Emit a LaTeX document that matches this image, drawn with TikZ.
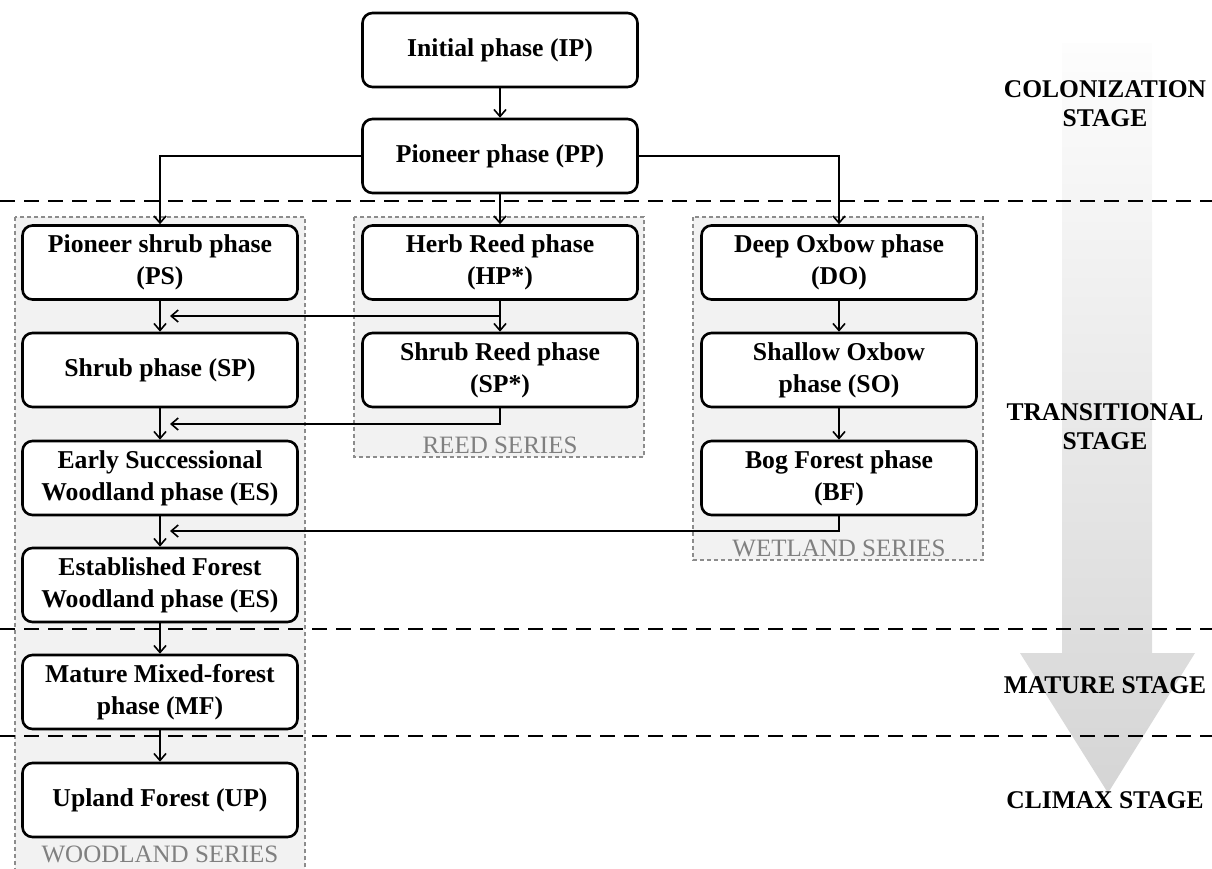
\documentclass[tikz,border=0pt]{standalone}
\usepackage{fontspec}
\setmainfont{Liberation Serif}
\usetikzlibrary{arrows.meta}
\definecolor{grpfill}{HTML}{F2F2F2}
\definecolor{grpline}{HTML}{8C8C8C}
\definecolor{grptext}{HTML}{808080}
\definecolor{shtop}{HTML}{FDFDFD}
\definecolor{shbot}{HTML}{D5D5D5}
\begin{document}
\begin{tikzpicture}[x=1pt,y=-1pt,
  phase/.style={draw, line width=2.6pt, rounded corners=10pt, fill=white,
    minimum width=275pt, minimum height=74pt, inner sep=0pt, align=center,
    font=\fontsize{25.7}{32}\selectfont\bfseries},
  arr/.style={line width=1.6pt, -{Straight Barb[length=7pt,width=12pt]}},
  group/.style={draw=grpline, fill=grpfill, line width=1.2pt, dash pattern=on 4pt off 3pt},
  grplabel/.style={text=grptext, font=\fontsize{25}{30}\selectfont},
  stage/.style={align=center, font=\fontsize{25.5}{29}\selectfont\bfseries},
  sep/.style={line width=2pt, dash pattern=on 15pt off 9pt}]
\useasboundingbox (0,0) rectangle (1212,868);
\clip (0,0) rectangle (1212,868);

% big gradient arrow
\shade[top color=shtop, bottom color=shbot]
  (1062,43) -- (1152,43) -- (1152,653) -- (1195,653) -- (1108,793)
  -- (1020,653) -- (1062,653) -- cycle;

% series groups
\draw[group] (15,217) rectangle (305,880);
\draw[group] (354,217) rectangle (644,457);
\draw[group] (693,217) rectangle (983,560);
\node[grplabel] (lwood) at (160,854) {WOODLAND SERIES};
\node[grplabel] (lreed) at (500,445) {REED SERIES};
\node[grplabel] (lwet)  at (839,548) {WETLAND SERIES};

% stage separators
\draw[sep] (0,201) -- (1212,201);
\draw[sep] (0,629) -- (1212,629);
\draw[sep] (0,736) -- (1212,736);

% stage labels
\node[stage] (scol) at (1105,104) {COLONIZATION\\STAGE};
\node[stage] (stra) at (1105,427) {TRANSITIONAL\\STAGE};
\node[stage] (smat) at (1105,685) {MATURE STAGE};
\node[stage] (scli) at (1105,800) {CLIMAX STAGE};

% phases
\node[phase] (IP) at (500,50) {Initial phase (IP)};
\node[phase] (PP) at (500,156) {Pioneer phase (PP)};

\node[phase] (PS) at (160,262.5) {Pioneer shrub phase\\(PS)};
\node[phase] (SP) at (160,370) {Shrub phase (SP)};
\node[phase] (ES) at (160,478) {Early Successional\\Woodland phase (ES)};
\node[phase] (EF) at (160,585) {Established Forest\\Woodland phase (ES)};
\node[phase] (MF) at (160,692) {Mature Mixed-forest\\phase (MF)};
\node[phase] (UP) at (160,800) {Upland Forest (UP)};

\node[phase] (HP) at (500,262.5) {Herb Reed phase\\(HP*)};
\node[phase] (SR) at (500,370) {Shrub Reed phase\\(SP*)};

\node[phase] (DO) at (839,262.5) {Deep Oxbow phase\\(DO)};
\node[phase] (SO) at (839,370) {Shallow Oxbow\\phase (SO)};
\node[phase] (BF) at (839,478) {Bog Forest phase\\(BF)};

% connectors
\draw[arr] (IP) -- (PP);
\draw[arr] (PP.west) -| (PS.north);
\draw[arr] (PP.east) -| (DO.north);
\draw[arr] (PP) -- (HP);

\draw[arr] (PS) -- (SP);
\draw[arr] (SP) -- (ES);
\draw[arr] (ES) -- (EF);
\draw[arr] (EF) -- (MF);
\draw[arr] (MF) -- (UP);

\draw[arr] (HP) -- (SR);
\draw[arr] (DO) -- (SO);
\draw[arr] (SO) -- (BF);

\coordinate (j1) at (170,316);
\coordinate (j2) at (170,424);
\coordinate (j3) at (170,531);
\draw[arr] (HP.south) |- (j1);
\draw[arr] (SR.south) |- (j2);
\draw[arr] (BF.south) |- (j3);
\end{tikzpicture}
\end{document}
